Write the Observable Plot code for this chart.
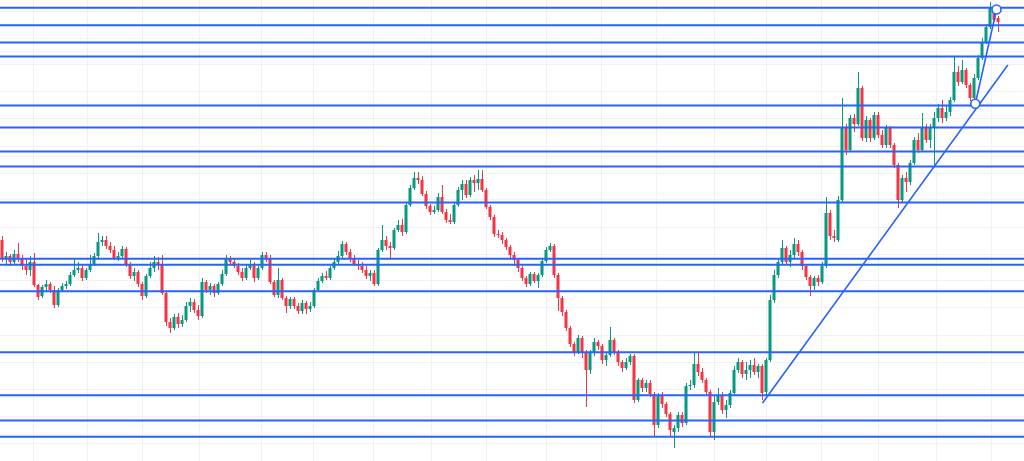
<!DOCTYPE html>
<html><head><meta charset="utf-8">
<script src="https://cdn.jsdelivr.net/npm/d3@7"></script>
<script src="https://cdn.jsdelivr.net/npm/@observablehq/plot@0.6"></script>
<style>html,body{margin:0;padding:0;background:#fff;overflow:hidden}</style>
</head><body><div id="chart"></div>
<script>
const open = [
260,242,244,238,246,242,234,230,238,215,
204,213,216,210,195,210,214,216,225,230,
232,222,230,236,244,258,260,254,250,242,
244,251,235,224,228,216,204,224,232,238,
236,207,178,172,183,176,180,194,198,190,
184,218,210,214,207,216,226,241,238,234,
228,222,232,236,222,232,245,242,218,205,
220,202,194,201,194,189,197,191,194,210,
219,224,222,232,238,244,256,248,242,236,
234,230,224,227,216,250,260,254,252,270,
275,268,295,312,322,320,306,294,288,290,
303,288,280,278,295,310,316,305,320,317,
321,310,293,283,266,265,260,253,245,240,
232,222,216,226,219,225,239,250,254,225,
202,188,172,156,148,162,148,130,148,158,
154,140,145,160,148,138,132,138,144,100,
120,112,117,106,75,105,96,86,68,72,
85,77,114,115,136,128,120,108,68,98,
105,90,95,107,130,138,126,130,135,128,
134,108,140,200,225,238,252,238,245,256,
248,234,223,214,222,218,234,287,264,260,
300,372,350,382,376,412,362,380,362,385,
365,355,372,355,335,300,322,318,337,360,
350,373,360,372,382,392,382,388,400,428,
418,430,415,402,422,442,458,473,490,482];
const high = [
264,248,246,250,257,245,242,244,247,216,
215,220,218,214,212,217,219,228,242,238,
235,232,245,247,267,264,264,258,254,248,
254,253,238,232,230,218,226,238,244,243,
245,209,182,186,187,185,198,202,201,195,
222,220,217,216,218,230,245,244,242,237,
232,236,240,238,236,248,248,245,220,232,
222,204,203,203,197,200,199,198,212,222,
227,229,234,242,249,259,258,251,245,240,
238,234,230,230,252,275,264,258,272,280,
281,298,315,328,328,324,309,296,294,307,
315,291,286,298,313,320,320,323,325,330,
330,312,295,285,270,268,262,255,248,242,
234,224,228,228,227,241,253,257,256,227,
204,190,174,158,165,164,150,150,162,160,
156,148,173,162,150,140,142,146,146,122,
122,120,120,108,107,108,98,88,75,88,
88,117,120,148,148,132,122,110,105,112,
108,100,110,134,142,140,138,140,142,136,
136,142,205,230,242,260,254,250,262,260,
250,236,225,224,225,238,303,290,270,304,
402,376,385,386,428,414,384,382,388,388,
370,375,374,357,337,325,328,340,363,367,
387,376,376,388,396,400,395,403,443,434,
440,432,417,426,445,462,476,498,492,484];
const low = [
238,236,234,236,238,230,225,224,213,200,
202,209,207,192,193,208,211,214,223,227,
219,220,228,234,242,254,251,247,240,239,
242,233,221,219,213,200,202,222,228,230,
205,174,167,170,172,173,178,188,187,180,
182,207,205,203,205,214,224,235,232,225,
219,220,230,218,220,230,238,216,203,202,
200,187,191,191,186,186,186,188,192,208,
217,220,220,230,236,242,245,238,234,230,
227,221,219,214,214,248,250,242,250,268,
264,266,293,310,316,304,291,285,286,288,
286,277,276,276,293,300,302,303,308,310,
308,291,280,263,262,256,250,242,234,228,
219,213,214,217,212,223,237,248,222,189,
184,169,153,144,146,142,93,126,144,150,
136,134,143,145,134,128,130,135,97,98,
108,108,103,63,72,92,83,64,52,68,
73,75,110,112,124,117,105,64,60,95,
86,82,92,104,127,122,120,122,125,122,
100,104,138,197,222,235,235,233,242,244,
230,220,204,210,214,216,232,260,258,258,
298,345,348,368,374,359,358,358,360,362,
352,352,352,332,292,297,308,315,335,347,
348,357,352,333,378,377,379,384,398,414,
416,412,399,397,420,440,456,471,478,468];
const close = [
242,244,238,246,242,234,230,238,215,203,
213,216,210,195,210,214,216,225,230,232,
222,230,236,244,258,260,254,250,242,244,
251,235,224,228,216,204,224,232,238,236,
207,178,172,183,176,180,194,198,190,184,
218,210,214,207,216,226,241,238,234,228,
222,232,236,222,232,245,242,218,205,220,
202,194,201,194,189,197,191,194,210,219,
224,222,232,238,244,256,248,242,236,234,
230,224,227,216,250,260,254,252,270,275,
268,295,312,322,320,306,294,288,290,303,
288,280,278,295,310,316,305,320,317,321,
310,293,283,266,265,260,253,245,240,232,
222,216,226,219,225,239,250,254,225,202,
188,172,156,148,162,148,130,148,158,154,
140,145,160,148,138,132,138,144,100,120,
112,117,106,75,105,96,86,70,72,85,
77,114,115,136,128,120,108,68,98,105,
90,95,107,130,138,126,130,135,128,134,
107,140,200,225,238,252,238,245,256,248,
234,223,214,222,218,234,287,264,262,300,
372,350,382,376,412,362,380,362,385,365,
355,372,355,335,300,322,318,337,360,350,
373,360,372,382,392,382,388,400,428,418,
430,415,402,422,442,458,473,492,480,478];

// horizontal support / resistance levels (price)
const levels = [492.7, 475.3, 458, 444, 395, 373, 349, 334, 298, 241.7, 235.7, 209.3, 148.3, 105.3, 80, 63.7];
// faint grid
const gridPrices = [489, 462.5, 436, 409, 382, 354, 327, 301, 273, 246, 220, 193, 165, 138, 111, 84, 57];
const gridTimes = [7.75, 21.25, 35, 49.25, 64.75, 77.75, 92.75, 107.25, 121, 136, 149.75, 163.5, 178, 191, 204.75, 219, 233.5, 247.25];
// trendlines (bar index, price)
const trendIdx = [190.1, 251.25];
const trendPrice = [98, 435];
const steepIdx = [243.2, 248.5];
const steepPrice = [396.7, 491];

const candles = close.map((c, i) => ({i, o: open[i], h: high[i], l: low[i], c}));
const up = candles.filter(d => d.c >= d.o);
const down = candles.filter(d => d.c < d.o);
const trendMain = trendIdx.map((x, k) => ({i: x, p: trendPrice[k]}));
const trendSteep = steepIdx.map((x, k) => ({i: x, p: steepPrice[k]}));

const UP = "#089981", DOWN = "#f23645", BLUE = "#2962ff", GRID = "#eef1f6";
const W = 0.38;

const chart = Plot.plot({
  width: 1024, height: 461, margin: 0,
  style: {background: "#ffffff"},
  x: {domain: [-0.5, 255.5], axis: null},
  y: {domain: [39, 500], axis: null},
  marks: [
    Plot.ruleY(gridPrices, {stroke: GRID, strokeWidth: 1}),
    Plot.ruleX(gridTimes, {stroke: GRID, strokeWidth: 1}),
    Plot.ruleX(up, {x: "i", y1: "l", y2: "h", stroke: UP, strokeWidth: 1}),
    Plot.ruleX(down, {x: "i", y1: "l", y2: "h", stroke: DOWN, strokeWidth: 1}),
    Plot.rect(up, {x1: d => d.i - W, x2: d => d.i + W, y1: "o", y2: "c", fill: UP}),
    Plot.rect(down, {x1: d => d.i - W, x2: d => d.i + W, y1: "o", y2: "c", fill: DOWN}),
    Plot.ruleY(levels, {stroke: BLUE, strokeWidth: 2}),
    Plot.line(trendMain, {x: "i", y: "p", stroke: BLUE, strokeWidth: 1.6}),
    Plot.line(trendSteep, {x: "i", y: "p", stroke: BLUE, strokeWidth: 1.6}),
    Plot.dot(trendSteep, {x: "i", y: "p", r: 4.5, fill: "white", stroke: BLUE, strokeWidth: 1.6})
  ]
});
document.getElementById("chart").appendChild(chart);
</script>
</body></html>
